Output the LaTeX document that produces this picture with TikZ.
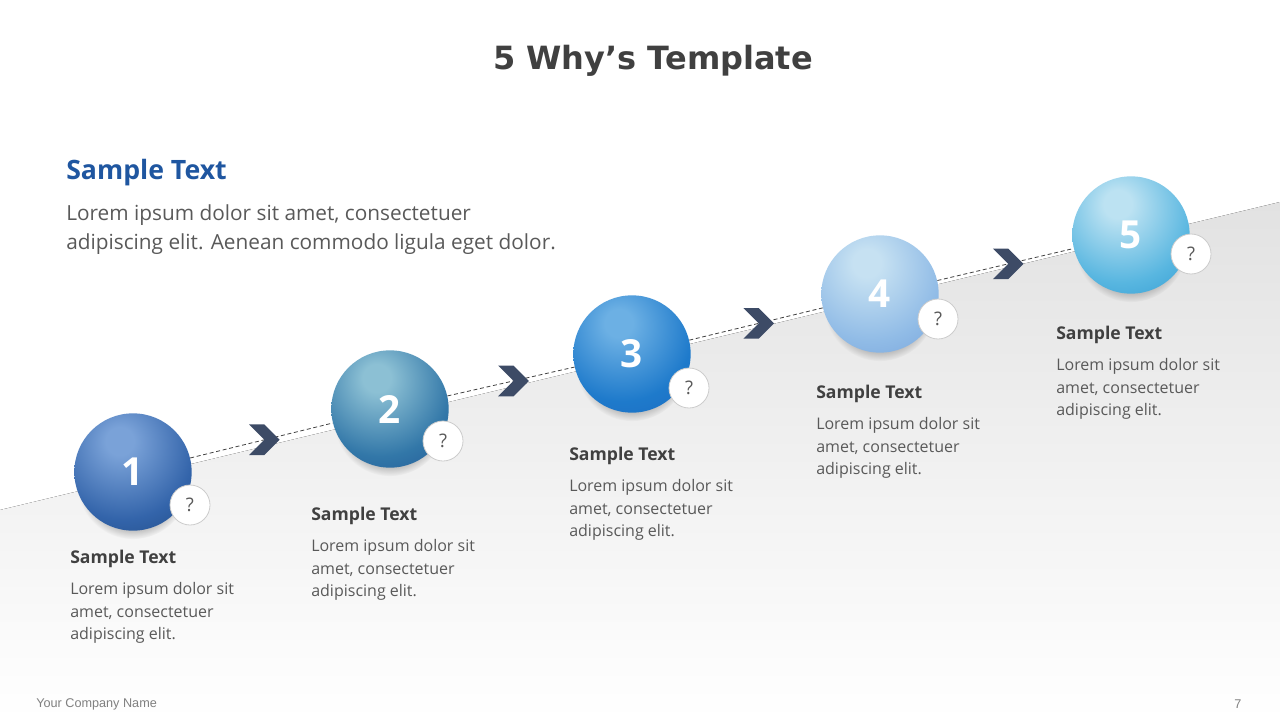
\documentclass[tikz,border=0pt]{standalone}
\usepackage{fontspec}
\setmainfont{Open Sans}
\newfontfamily\titlefont{DejaVu Sans}
\newfontfamily\footfont{Liberation Sans}
\usetikzlibrary{positioning}
\usetikzlibrary{shapes.symbols}
\usetikzlibrary{shadows,fadings}

\definecolor{titlegray}{HTML}{404040}
\definecolor{bodygray}{HTML}{595959}
\definecolor{headblue}{HTML}{1F56A0}
\definecolor{chevblue}{HTML}{3D4B66}
\definecolor{ringgray}{HTML}{CCCCCC}
\definecolor{wedgegray}{HTML}{E2E2E2}

\definecolor{sphAa}{HTML}{7AA2D8}\definecolor{sphAb}{HTML}{3364AA}\definecolor{sphAc}{HTML}{153A6C}
\definecolor{sphBa}{HTML}{8CC0D4}\definecolor{sphBb}{HTML}{3277A8}\definecolor{sphBc}{HTML}{17428A}
\definecolor{sphCa}{HTML}{6CB0E4}\definecolor{sphCb}{HTML}{1E7ACB}\definecolor{sphCc}{HTML}{1A5FBA}
\definecolor{sphDa}{HTML}{C6E1F2}\definecolor{sphDb}{HTML}{90BBE6}\definecolor{sphDc}{HTML}{6693D4}
\definecolor{sphEa}{HTML}{BCE2F2}\definecolor{sphEb}{HTML}{58B6E0}\definecolor{sphEc}{HTML}{1788C8}

\newcommand{\sphereshading}[4]{%
  \pgfdeclareradialshading{sphere#1}{\pgfpoint{-6bp}{14bp}}{%
    color(0bp)=(#2); color(6bp)=(#2); color(30bp)=(#3); color(56bp)=(#4); color(100bp)=(#4)}}
\sphereshading{1}{sphAa}{sphAb}{sphAc}
\sphereshading{2}{sphBa}{sphBb}{sphBc}
\sphereshading{3}{sphCa}{sphCb}{sphCc}
\sphereshading{4}{sphDa}{sphDb}{sphDc}
\sphereshading{5}{sphEa}{sphEb}{sphEc}

\tikzset{
  ball/.style={circle, minimum size=88pt, inner sep=0pt, shade, shading=sphere#1,
    circular drop shadow={shadow xshift=0pt, shadow yshift=-9pt, shadow scale=0.95, opacity=0.4},
    text=white, font=\fontsize{29}{29}\selectfont\bfseries},
  qmark/.style={circle, minimum size=30pt, inner sep=0pt, fill=white, draw=ringgray, line width=0.6pt,
    text=bodygray, font=\fontsize{14}{14}\selectfont},
  chev/.style={signal, signal from=west, signal to=east, signal pointer angle=90,
    minimum width=23pt, minimum height=23pt, inner sep=0pt, fill=chevblue},
  flow/.style={draw=titlegray, line width=0.6pt, dash pattern=on 3pt off 2pt},
  head/.style={inner sep=0pt, text=titlegray, font=\fontsize{13.2}{15}\selectfont\bfseries},
  body/.style={inner sep=0pt, align=left, text=bodygray, font=\fontsize{12}{16.9}\selectfont},
}

\begin{document}
\begin{tikzpicture}[x=0.75pt, y=-0.75pt]
  \useasboundingbox (0,0) rectangle (1280,720);
  \fill[top color=wedgegray, bottom color=white] (0,510) -- (1280,202) -- (1280,720) -- (0,720) -- cycle;

  \node[font=\titlefont\bfseries\fontsize{24}{24}\selectfont, text=titlegray] (title) at (653,61) {5 Why’s Template};

  \node[anchor=base west, inner sep=0pt, text=headblue, font=\fontsize{20}{22}\selectfont\bfseries] (hb) at (66,180) {Sample Text};
  \node[below right=13pt and 0pt of hb.south west, inner sep=0pt, align=left, text=bodygray,
    font=\fontsize{15.6}{21.75}\selectfont] (tb) {Lorem ipsum dolor sit amet, consectetuer\\adipiscing elit. Aenean commodo ligula eget dolor.};

  % spheres and question marks
  \foreach \n/\x/\y/\qx/\qy in {1/133/472/190/505, 2/390/409/443/441, 3/632/354/689/388,
                                4/880/294/938/319, 5/1131/235/1191/254} {
    \node[ball=\n] (s\n) at (\x,\y) {\n};
    \node[qmark] (q\n) at (\qx,\qy) {?};
  }

  % links between the steps
  \foreach \a/\b in {1/2, 2/3, 3/4, 4/5}
    \draw[flow] (s\a) -- node[chev, pos=0.52] (c\a) {} (s\b);

  % step texts
  \foreach \n/\x/\y in {1/70/563, 2/311/520, 3/569/460, 4/816/398, 5/1056/339} {
    \node[head, anchor=base west] (h\n) at (\x,\y) {Sample Text};
    \node[body, below right=11pt and 0pt of h\n.south west] (t\n) {Lorem ipsum dolor sit\\amet, consectetuer\\adipiscing elit.};
  }

  \node[anchor=west, inner sep=0pt, font=\footfont\fontsize{9.5}{9.5}\selectfont, text=gray] (foot) at (36,704) {Your Company Name};
  \node[anchor=west, inner sep=0pt, font=\footfont\fontsize{9.5}{9.5}\selectfont, text=gray] (page) at (1234,704) {7};
\end{tikzpicture}
\end{document}
